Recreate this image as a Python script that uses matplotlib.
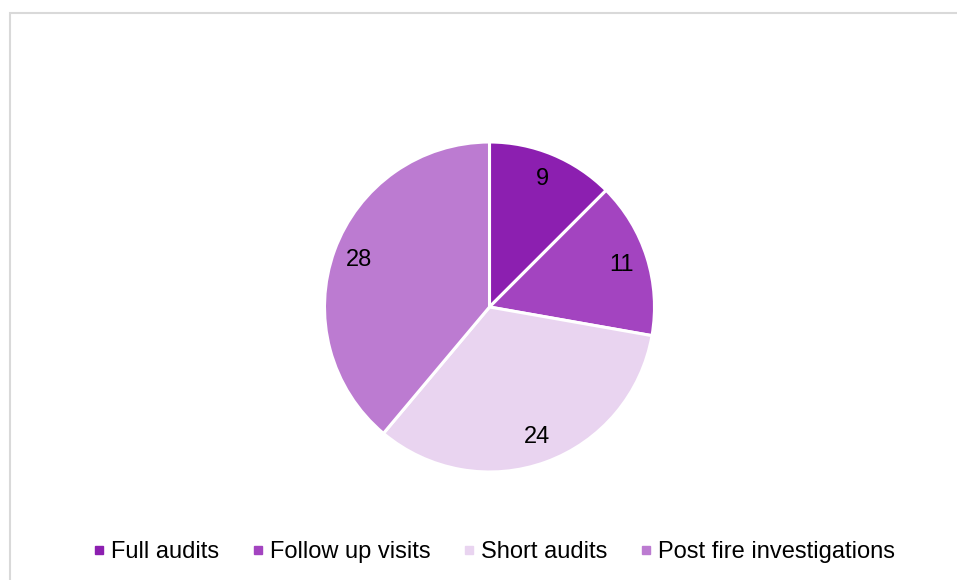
import matplotlib.pyplot as plt
from matplotlib.lines import Line2D
from matplotlib.patches import Rectangle

plt.rcParams['font.family'] = ['Liberation Sans', 'DejaVu Sans']

categories = ["Full audits", "Follow up visits", "Short audits", "Post fire investigations"]
values = [9, 11, 24, 28]
colors = ["#8C1FB0", "#A344C0", "#E9D4F0", "#BC7BD1"]

fig = plt.figure(figsize=(9.57, 5.8), dpi=100)

# light grey chart border (runs off the right and bottom edges)
fig.patches.append(Rectangle((10 / 957, -0.05), 1.0, (580 - 13) / 580 + 0.05,
                             transform=fig.transFigure, fill=False,
                             edgecolor="#D9D9D9", linewidth=1.5))

ax = fig.add_axes([324.5 / 957, 108 / 580, 330 / 957, 330 / 580])
ax.pie(values, colors=colors, startangle=90, counterclock=False,
       labels=[str(v) for v in values], labeldistance=0.84,
       wedgeprops=dict(edgecolor="white", linewidth=2.2),
       textprops=dict(fontsize=17, color="black", ha="center", va="center"))
ax.set_xlim(-1, 1)
ax.set_ylim(-1, 1)
ax.set_aspect("auto")
ax.axis("off")

handles = [Line2D([], [], marker="s", linestyle="none", markersize=5.5,
                  markerfacecolor=c, markeredgecolor=c) for c in colors]
fig.legend(handles, categories, loc="center", bbox_to_anchor=(494 / 957, 1 - 552 / 580),
           ncol=4, frameon=False, fontsize=17, handlelength=0.5,
           handletextpad=0.25, columnspacing=1.4)

fig.savefig("out.png", dpi=100)
